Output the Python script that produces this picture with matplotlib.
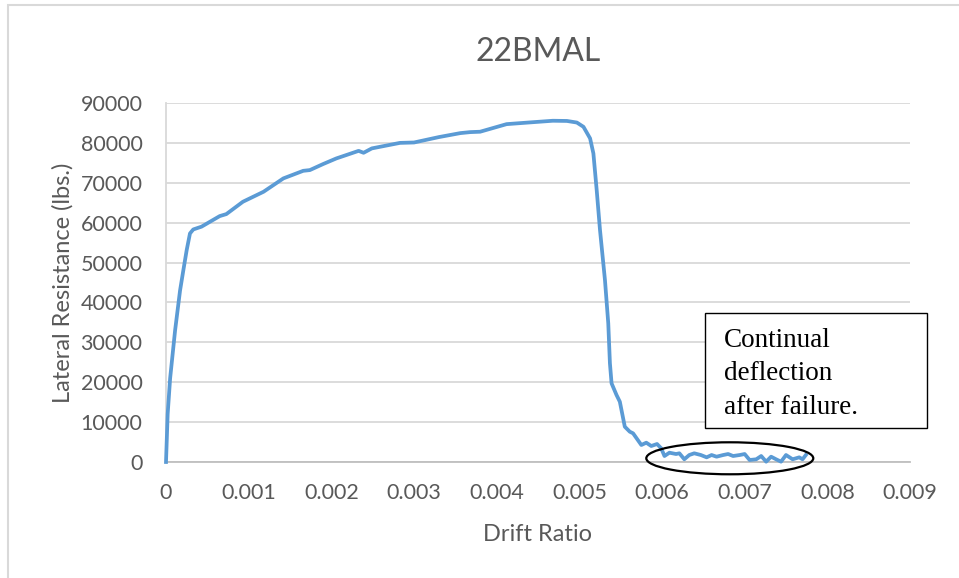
"""Lateral resistance vs drift ratio for specimen 22BMAL."""

import matplotlib
matplotlib.use("Agg")
import matplotlib.pyplot as plt
from matplotlib.patches import Ellipse, Rectangle

# drift ratio / lateral resistance (lbs.)
drift = [0.0, 0.00002, 0.00005, 0.00011, 0.00017, 0.00021, 0.00025, 0.00029,
         0.00033, 0.00043, 0.00065, 0.00073, 0.00093, 0.00118, 0.00142,
         0.00166, 0.00174, 0.0019, 0.00206, 0.00233, 0.00239, 0.00249,
         0.00283, 0.0030, 0.0033, 0.00356, 0.00368, 0.0038, 0.00412, 0.0044,
         0.00468, 0.00485, 0.00497, 0.00505, 0.00513, 0.00517, 0.00521,
         0.00525, 0.00531, 0.00535, 0.00537, 0.00539, 0.00545, 0.00549,
         0.00555, 0.00561, 0.00565, 0.00575, 0.00581, 0.00587, 0.00594,
         0.00599, 0.00603, 0.00609, 0.00617, 0.00621, 0.00627, 0.00633,
         0.00639, 0.00647, 0.00654, 0.0066, 0.00666, 0.00674, 0.0068,
         0.00686, 0.00694, 0.007, 0.00706, 0.00714, 0.0072, 0.00726,
         0.00732, 0.00738, 0.00744, 0.0075, 0.00758, 0.00766, 0.0077,
         0.00774]
load = [0, 12000, 21000, 33000, 43000, 48100, 53100, 57300,
        58300, 59000, 61650, 62150, 65240, 67750, 71100,
        73000, 73180, 74690, 76100, 78000, 77520, 78620,
        80000, 80100, 81450, 82450, 82700, 82800, 84700, 85130,
        85550, 85500, 85100, 84030, 81130, 77370, 68170,
        58150, 45610, 34760, 24740, 19720, 16790, 15110,
        8850, 7600, 7190, 4260, 4840, 4010, 4510,
        3430, 1500, 2330, 2000, 2180, 680, 1750,
        2180, 1750, 1170, 1750, 1330, 1750, 2000,
        1500, 1750, 2000, 500, 680, 1500, 80,
        1330, 680, 80, 1750, 680, 1170, 680,
        1750]

x_ticks = [0, 0.001, 0.002, 0.003, 0.004, 0.005, 0.006, 0.007, 0.008, 0.009]
x_tick_labels = ["0", "0.001", "0.002", "0.003", "0.004", "0.005",
                 "0.006", "0.007", "0.008", "0.009"]
y_ticks = list(range(0, 90001, 10000))
note_text = "Continual\ndeflection\nafter failure."

plt.rcParams['font.family'] = ['Lato', 'DejaVu Sans']
text_grey = '#595959'

fig = plt.figure(figsize=(9.59, 5.78), dpi=100)
ax = fig.add_axes([0.1731, 0.2007, 0.7758, 0.6211])

# chart-area border (runs off the right/bottom edge in the original)
fig.patches.append(Rectangle((8 / 959, -0.05), 1.1, 1.05 - 5 / 578,
                             transform=fig.transFigure, fill=False,
                             edgecolor='#d9d9d9', linewidth=1.5))

ax.plot(drift, load, color='#5B9BD5', linewidth=2.7, zorder=3, clip_on=False,
        solid_joinstyle='round')

ax.set_xlim(0, 0.009)
ax.set_ylim(0, 90000)
ax.set_xticks(x_ticks)
ax.set_xticklabels(x_tick_labels)
ax.set_yticks(y_ticks)
ax.yaxis.grid(True, color='#d9d9d9', linewidth=1.3)
ax.set_axisbelow(True)
ax.tick_params(length=0, labelsize=15.5, colors=text_grey)
ax.tick_params(axis='x', pad=15)
ax.tick_params(axis='y', pad=17)
for side in ['top', 'right']:
    ax.spines[side].set_visible(False)
ax.spines['left'].set_color('#d9d9d9')
ax.spines['bottom'].set_color('#bfbfbf')
ax.spines['left'].set_linewidth(1.3)
ax.spines['bottom'].set_linewidth(1.3)

ax.set_title("22BMAL", fontsize=23, color=text_grey, pad=30)
ax.set_xlabel("Drift Ratio", fontsize=17, color=text_grey, labelpad=15)
ax.set_ylabel("Lateral Resistance (lbs.)", fontsize=17, color=text_grey,
              labelpad=5)

# callout: ellipse round the post-failure tail and a boxed note
ax.add_patch(Ellipse((0.00682, 930), 0.00202, 8020, fill=False,
                     edgecolor='black', linewidth=1.6, zorder=4, clip_on=False))
ax.add_patch(Rectangle((0.7245, 0.0947), 0.298, 0.320, transform=ax.transAxes,
                       facecolor='white', edgecolor='black', linewidth=1.0,
                       zorder=5, clip_on=False))
ax.text(0.75, 0.246, note_text, transform=ax.transAxes, ha='left', va='center',
        fontsize=19.5, family='Liberation Serif', color='black',
        linespacing=1.45, zorder=6)

fig.savefig("out.png", dpi=100)
plt.close(fig)
